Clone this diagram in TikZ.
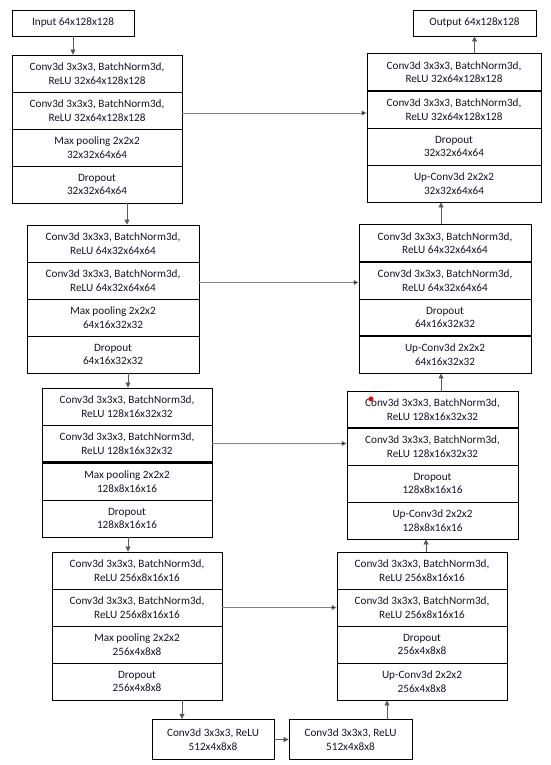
\documentclass[tikz,border=0pt]{standalone}
\usepackage{fontspec}
\setmainfont{Carlito}
\usetikzlibrary{arrows.meta}
\definecolor{txt}{RGB}{20,20,40}
\definecolor{wire}{RGB}{90,90,90}
\definecolor{skipwire}{RGB}{130,130,130}
\begin{document}
\begin{tikzpicture}[x=1pt,y=-1pt,
  cell/.style={draw, line width=0.8pt, minimum width=#1, minimum height=37pt,
    inner sep=0pt, align=center, text=txt, font=\fontsize{11.2}{13.6}\selectfont},
  iobox/.style={draw, line width=0.8pt, minimum width=#1, minimum height=26pt,
    inner sep=0pt, align=center, text=txt, font=\fontsize{11.2}{13.6}\selectfont},
  neck/.style={draw, line width=0.8pt, minimum width=#1, minimum height=40.5pt,
    inner sep=0pt, align=center, text=txt, font=\fontsize{11.2}{13.6}\selectfont},
  heavyrule/.style={line width=2pt},
  flow/.style={draw=wire, line width=0.7pt, -{Triangle[length=5pt,width=5pt]}},
  skipflow/.style={draw=skipwire, line width=0.8pt, -{Triangle[length=5pt,width=5pt,fill=black]}},
  mark dot/.style={circle, fill=red, inner sep=0pt, minimum size=5pt}
]
\useasboundingbox (0,0) rectangle (551,765);

% input / output
\node[iobox=122pt] (in)  at (73,23)    {Input 64x128x128};
\node[iobox=123pt] (out) at (474.5,23) {Output 64x128x128};

% encoder level 1
\node[cell=170pt] (L1a) at (97,73.5)  {Conv3d 3x3x3, BatchNorm3d,\\ReLU 32x64x128x128};
\node[cell=170pt] (L1b) at (97,110.5) {Conv3d 3x3x3, BatchNorm3d,\\ReLU 32x64x128x128};
\node[cell=170pt] (L1c) at (97,147.5) {Max pooling 2x2x2\\32x32x64x64};
\node[cell=170pt] (L1d) at (97,184.5) {Dropout\\32x32x64x64};

% encoder level 2
\node[cell=172pt] (L2a) at (113,243.5) {Conv3d 3x3x3, BatchNorm3d,\\ReLU 64x32x64x64};
\node[cell=172pt] (L2b) at (113,280.5) {Conv3d 3x3x3, BatchNorm3d,\\ReLU 64x32x64x64};
\node[cell=172pt] (L2c) at (113,317.5) {Max pooling 2x2x2\\64x16x32x32};
\node[cell=172pt] (L2d) at (113,354.5) {Dropout\\64x16x32x32};

% encoder level 3
\node[cell=170pt] (L3a) at (127,406.5) {Conv3d 3x3x3, BatchNorm3d,\\ReLU 128x16x32x32};
\node[cell=170pt] (L3b) at (127,443.5) {Conv3d 3x3x3, BatchNorm3d,\\ReLU 128x16x32x32};
\node[cell=170pt] (L3c) at (127,481.5) {Max pooling 2x2x2\\128x8x16x16};
\node[cell=170pt] (L3d) at (127,518.5) {Dropout\\128x8x16x16};
\draw[heavyrule] (L3b.south west) -- (L3b.south east);

% encoder level 4
\node[cell=170pt] (L4a) at (137,570.5) {Conv3d 3x3x3, BatchNorm3d,\\ReLU 256x8x16x16};
\node[cell=170pt] (L4b) at (137,607.5) {Conv3d 3x3x3, BatchNorm3d,\\ReLU 256x8x16x16};
\node[cell=170pt] (L4c) at (137,644.5) {Max pooling 2x2x2\\256x4x8x8};
\node[cell=170pt] (L4d) at (137,681.5) {Dropout\\256x4x8x8};

% bottleneck
\node[neck=122pt] (B1) at (213,739.5)   {Conv3d 3x3x3, ReLU\\512x4x8x8};
\node[neck=123pt] (B2) at (350.5,739.5) {Conv3d 3x3x3, ReLU\\512x4x8x8};

% decoder level 4
\node[cell=170pt] (R4a) at (422,570.5) {Conv3d 3x3x3, BatchNorm3d,\\ReLU 256x8x16x16};
\node[cell=170pt] (R4b) at (422,607.5) {Conv3d 3x3x3, BatchNorm3d,\\ReLU 256x8x16x16};
\node[cell=170pt] (R4c) at (422,644.5) {Dropout\\256x4x8x8};
\node[cell=170pt] (R4d) at (422,681.5) {Up-Conv3d 2x2x2\\256x4x8x8};

% decoder level 3
\node[cell=171pt] (R3a) at (432.5,409.5) {Conv3d 3x3x3, BatchNorm3d,\\ReLU 128x16x32x32};
\node[cell=171pt] (R3b) at (432.5,446.5) {Conv3d 3x3x3, BatchNorm3d,\\ReLU 128x16x32x32};
\node[cell=171pt] (R3c) at (432.5,483.5) {Dropout\\128x8x16x16};
\node[cell=171pt] (R3d) at (432.5,520.5) {Up-Conv3d 2x2x2\\128x8x16x16};
\draw[heavyrule] (R3a.south west) -- (R3a.south east);
\node[mark dot] (dot) at (371,399) {};

% decoder level 2
\node[cell=172pt] (R2a) at (445,243) {Conv3d 3x3x3, BatchNorm3d,\\ReLU 64x32x64x64};
\node[cell=172pt] (R2b) at (445,280.5) {Conv3d 3x3x3, BatchNorm3d,\\ReLU 64x32x64x64};
\node[cell=172pt] (R2c) at (445,317.5) {Dropout\\64x16x32x32};
\node[cell=172pt] (R2d) at (445,354.5) {Up-Conv3d 2x2x2\\64x16x32x32};
\draw[heavyrule] (R2c.south west) -- (R2c.south east);

% decoder level 1
\node[cell=174pt] (R1a) at (454,72)    {Conv3d 3x3x3, BatchNorm3d,\\ReLU 32x64x128x128};
\node[cell=174pt] (R1b) at (454,109.5) {Conv3d 3x3x3, BatchNorm3d,\\ReLU 32x64x128x128};
\node[cell=174pt] (R1c) at (454,146.5) {Dropout\\32x32x64x64};
\node[cell=174pt] (R1d) at (454,183.5) {Up-Conv3d 2x2x2\\32x32x64x64};
\draw[heavyrule] (R1a.south west) -- (R1a.south east);

% contracting path
\draw[flow] (in.south) -- (in.south |- L1a.north);
\draw[flow] ([xshift=30pt]L1d.south) -- ([xshift=30pt]L1d.south |- L2a.north);
\draw[flow] ([xshift=15pt]L2d.south) -- ([xshift=15pt]L2d.south |- L3a.north);
\draw[flow] ([xshift=1pt]L3d.south) -- ([xshift=1pt]L3d.south |- L4a.north);
\draw[flow] ([xshift=45pt]L4d.south) -- ([xshift=45pt]L4d.south |- B1.north);
\draw[flow] (B1.east) -- (B2.west);

% expanding path
\draw[flow] ([xshift=36.5pt]B2.north) -- ([xshift=36.5pt]B2.north |- R4d.south);
\draw[flow] ([xshift=4pt]R4a.north) -- ([xshift=4pt]R4a.north |- R3d.south);
\draw[flow] ([xshift=8.5pt]R3a.north) -- ([xshift=8.5pt]R3a.north |- R2d.south);
\draw[flow] ([xshift=-4pt]R2a.north) -- ([xshift=-4pt]R2a.north |- R1d.south);
\draw[flow] (R1a.north -| out.south) -- (out.south);

% skip connections
\draw[skipflow] ([yshift=-2.5pt]L1b.east) -- ([yshift=-2.5pt]L1b.east -| R1b.west);
\draw[skipflow] ([yshift=-2pt]L2b.east) -- ([yshift=-2pt]L2b.east -| R2b.west);
\draw[skipflow] (L3b.east) -- (L3b.east -| R3b.west);
\draw[skipflow] (L4b.east) -- (L4b.east -| R4b.west);
\end{tikzpicture}
\end{document}
